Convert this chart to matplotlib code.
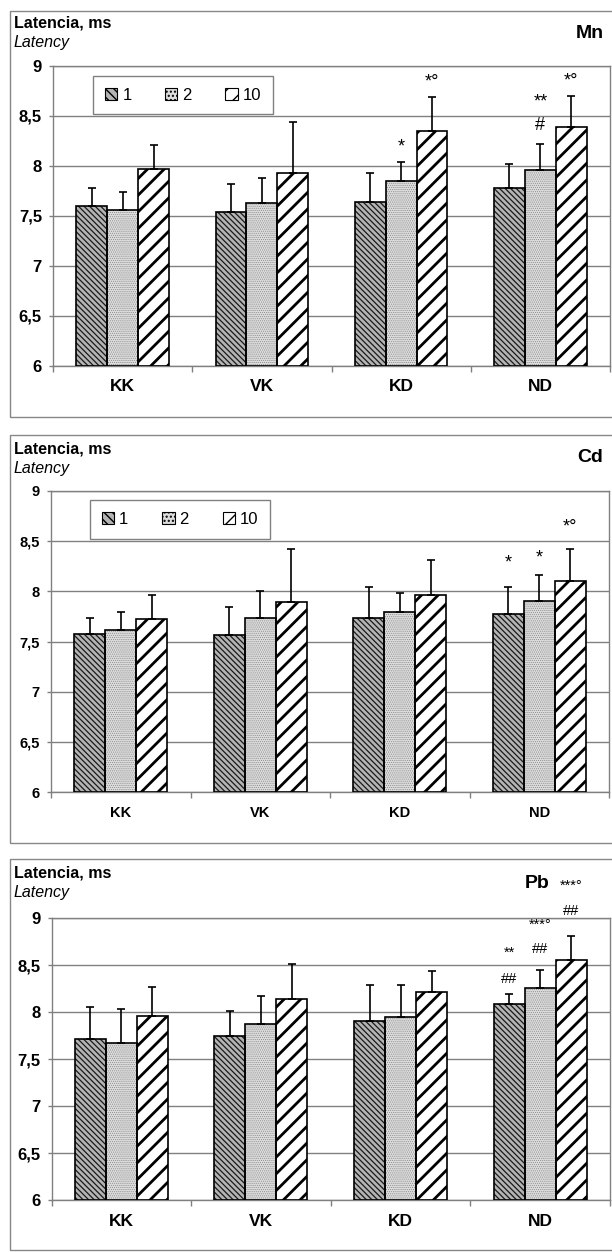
import numpy as np
import matplotlib
matplotlib.use('Agg')
import matplotlib.pyplot as plt
from matplotlib.patches import Patch, Rectangle

plt.rcParams['font.family'] = ['Liberation Sans', 'DejaVu Sans']

categories = ['KK', 'VK', 'KD', 'ND']
series_labels = ['1', '2', '10']

# Mn - srednie i odchylenia (tylko w gore)
mn_mean_1 = [7.60, 7.54, 7.64, 7.775]
mn_mean_2 = [7.56, 7.625, 7.845, 7.955]
mn_mean_10 = [7.965, 7.93, 8.345, 8.38]
mn_sd_1 = [0.175, 0.28, 0.29, 0.24]
mn_sd_2 = [0.18, 0.255, 0.195, 0.255]
mn_sd_10 = [0.24, 0.51, 0.34, 0.315]

# Cd
cd_mean_1 = [7.577, 7.567, 7.733, 7.777]
cd_mean_2 = [7.61, 7.737, 7.79, 7.903]
cd_mean_10 = [7.727, 7.893, 7.967, 8.10]
cd_sd_1 = [0.156, 0.276, 0.31, 0.266]
cd_sd_2 = [0.18, 0.263, 0.197, 0.257]
cd_sd_10 = [0.24, 0.524, 0.35, 0.317]

# Pb
pb_mean_1 = [7.71, 7.75, 7.90, 8.083]
pb_mean_2 = [7.67, 7.87, 7.95, 8.256]
pb_mean_10 = [7.96, 8.14, 8.21, 8.556]
pb_sd_1 = [0.34, 0.265, 0.383, 0.11]
pb_sd_2 = [0.36, 0.305, 0.333, 0.194]
pb_sd_10 = [0.31, 0.373, 0.23, 0.254]

# istotnosc: (kategoria, seria, tekst, y)
mn_notes = [(2, 1, '*', 8.185), (2, 2, '*°', 8.835),
            (3, 1, '**', 8.64), (3, 1, '#', 8.395), (3, 2, '*°', 8.845)]
cd_notes = [(3, 0, '*', 8.28), (3, 1, '*', 8.33), (3, 2, '*°', 8.64)]
pb_notes = [(3, 0, '**', 8.626), (3, 0, '##', 8.35),
            (3, 1, '***°', 8.926), (3, 1, '##', 8.669),
            (3, 2, '***°', 9.34), (3, 2, '##', 9.074)]

W, H = 612, 1252
styles = [
    dict(face='#b4b4b4', hatch='\\\\\\\\\\\\', hcolor='#1a1a1a', hlw=0.9),
    dict(face='#dcdcdc', hatch='........', hcolor='#8c8c8c', hlw=0.5),
    dict(face='white', hatch='//', hcolor='black', hlw=2.0),
]


def px_rect(left, right, top, bottom):
    return [left / W, 1 - bottom / H, (right - left) / W, (bottom - top) / H]


def rysuj_panel(fig, rect, means, sds, notes, tick_fs, cat_fs,
                legend_box=None, note_fs=10):
    ax = fig.add_axes(rect)
    x = np.arange(len(categories))
    w = 0.222
    for i, (m, s) in enumerate(zip(means, sds)):
        st = styles[i]
        xs = x + (i - 1) * w
        with plt.rc_context({'hatch.linewidth': st['hlw']}):
            ax.bar(xs, np.array(m) - 6, w, bottom=6, color=st['face'],
                   hatch=st['hatch'], edgecolor=st['hcolor'], linewidth=0, zorder=2)
        ax.bar(xs, np.array(m) - 6, w, bottom=6, fill=False,
               edgecolor='black', linewidth=1.2, zorder=3)
        ax.errorbar(xs, m, yerr=[np.zeros(len(m)), s], fmt='none',
                    ecolor='black', elinewidth=1.2, capsize=3, capthick=1.2, zorder=4)

    for ci, si, txt, y in notes:
        ax.text(ci + (si - 1) * w, y, txt, ha='center', va='center',
                fontsize=note_fs, clip_on=False, zorder=5)

    ax.set_xlim(-0.5, 3.5)
    ax.set_ylim(6, 9)
    yt = np.arange(6, 9.01, 0.5)
    ax.set_yticks(yt)
    ax.set_yticklabels([f'{v:g}'.replace('.', ',') for v in yt],
                       fontsize=tick_fs, fontweight='bold')
    ax.set_xticks(x)
    ax.set_xticklabels(categories, fontsize=cat_fs, fontweight='bold')
    ax.set_xticks(np.arange(-0.5, 3.6, 1), minor=True)
    ax.tick_params(axis='x', which='major', length=0, pad=10)
    ax.tick_params(axis='x', which='minor', length=4, color='#808080', width=1)
    ax.tick_params(axis='y', length=3, color='#808080', width=1, pad=5)
    ax.grid(axis='y', color='#808080', linewidth=1)
    ax.set_axisbelow(True)
    for sp in ax.spines.values():
        sp.set_color('#808080')
        sp.set_linewidth(1)

    if legend_box is not None:
        with plt.rc_context({'hatch.linewidth': 0.8}):
            handles = [Patch(facecolor=st['face'], hatch=st['hatch'][:4],
                             edgecolor='black', linewidth=0.8) for st in styles]
        leg = ax.legend(handles, series_labels, ncol=3, loc='center left',
                        bbox_to_anchor=legend_box, mode='expand',
                        fontsize=12, frameon=True, fancybox=False,
                        edgecolor='#808080', framealpha=1, borderpad=0.7,
                        handlelength=0.75, handleheight=0.75,
                        handletextpad=0.3, borderaxespad=0)
        leg.get_frame().set_linewidth(1)
    return ax


fig = plt.figure(figsize=(W / 100, H / 100), dpi=100)
fig.patch.set_facecolor('white')

# ramki wykresow
for top, bottom in [(11, 417), (435, 843), (859, 1250)]:
    fig.add_artist(Rectangle((10 / W, 1 - bottom / H), 610 / W, (bottom - top) / H,
                             transform=fig.transFigure, fill=False,
                             edgecolor='#888888', linewidth=1))

panels = [
    (px_rect(53, 610, 65.5, 365.5), [mn_mean_1, mn_mean_2, mn_mean_10],
     [mn_sd_1, mn_sd_2, mn_sd_10], mn_notes, 'Mn', 12, 12.5, (0.072, 0.835, 0.323, 0.133), 13,
     28, 47, 38, 604),
    (px_rect(51, 609, 491, 792), [cd_mean_1, cd_mean_2, cd_mean_10],
     [cd_sd_1, cd_sd_2, cd_sd_10], cd_notes, 'Cd', 10.5, 10.5, (0.070, 0.84, 0.323, 0.13), 13,
     454, 473, 462, 603),
    (px_rect(51.5, 610, 918, 1200), [pb_mean_1, pb_mean_2, pb_mean_10],
     [pb_sd_1, pb_sd_2, pb_sd_10], pb_notes, 'Pb', 12, 12.5, None, 10.5,
     878, 897, 888, 549),
]

for rect, means, sds, notes, name, tfs, cfs, lbox, nfs, yb1, yb2, ynm, xnm in panels:
    rysuj_panel(fig, rect, means, sds, notes, tfs, cfs, lbox, nfs)
    fig.text(14 / W, 1 - yb1 / H, 'Latencia, ms', fontsize=11.5,
             fontweight='bold', va='baseline', ha='left')
    fig.text(14 / W, 1 - yb2 / H, 'Latency', fontsize=11.5,
             fontstyle='italic', va='baseline', ha='left')
    fig.text(xnm / W, 1 - ynm / H, name, fontsize=14, fontweight='bold',
             va='baseline', ha='right')

fig.savefig('out.png', dpi=100)
